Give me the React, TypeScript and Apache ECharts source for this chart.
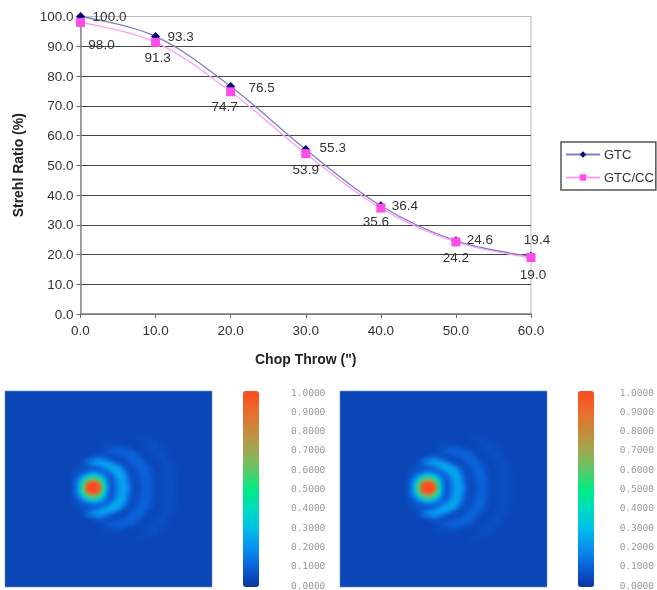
import React, { useEffect, useRef } from "react";
import * as echarts from "echarts";

const chopThrow = [0, 10, 20, 30, 40, 50, 60];
const gtc = [100.0, 93.3, 76.5, 55.3, 36.4, 24.6, 19.4];
const gtcCc = [98.0, 91.3, 74.7, 53.9, 35.6, 24.2, 19.0];
const colorbarTicks = [0, 0.1, 0.2, 0.3, 0.4, 0.5, 0.6, 0.7, 0.8, 0.9, 1];

// Intensity (percent), rows top to bottom, 4 px cells.
const psfUpper = [
  [4,4,4,4,4,4,4,4,4,4,4,4,4,4,4,4,4,4,5,5,5,4,4,4,4,4,4,4,4,4,4],
  [4,4,4,4,4,4,4,4,4,4,4,4,4,4,4,4,4,4,4,5,5,6,5,5,4,4,4,4,4,4,4],
  [4,4,4,4,4,4,4,4,4,5,5,5,5,5,5,4,4,4,4,4,5,6,6,6,5,4,4,4,4,4,4],
  [4,4,4,4,4,4,4,4,4,4,5,6,7,8,8,7,6,5,4,4,5,5,6,6,5,5,4,4,4,4,4],
  [4,4,4,4,4,4,4,4,4,5,6,7,9,10,10,10,10,9,7,5,4,5,5,6,6,5,5,4,4,4,4],
  [4,4,4,4,4,4,4,5,7,8,7,6,6,6,8,9,10,11,10,7,5,4,5,5,6,6,5,4,4,4,4],
  [4,4,4,4,4,6,10,14,17,18,16,11,7,5,5,6,8,10,11,10,7,5,4,5,5,6,5,5,4,4,4],
  [4,4,4,4,5,7,11,16,20,23,24,23,20,14,8,5,6,8,10,11,9,6,5,4,5,5,6,5,4,4,4],
  [4,4,4,5,6,7,7,8,9,12,18,23,25,25,20,12,6,6,8,10,11,9,6,4,5,5,6,5,5,4,4],
  [4,4,5,5,7,9,12,15,15,13,11,13,20,25,26,18,9,5,7,9,11,10,6,5,4,5,6,5,5,4,4],
  [4,4,5,7,12,20,29,35,34,27,17,10,10,20,25,22,12,6,6,8,10,10,7,5,4,5,6,6,5,4,4],
  [4,4,6,10,20,38,58,70,68,52,30,14,8,15,23,23,15,7,5,7,10,10,8,5,4,5,6,6,5,4,4],
  [4,4,6,12,27,56,92,104,102,82,42,17,7,14,22,24,17,8,5,7,10,10,8,5,4,5,6,6,5,4,4],
];
const psfCentre = [4,4,6,12,29,62,104,120,120,96,46,19,7,13,21,24,18,8,5,6,9,10,8,5,4,5,6,6,5,4,4];
const psfRows = [...psfUpper, psfCentre, ...[...psfUpper].reverse()];

const psfCells = psfRows.flatMap((row, r) => row.map((v, c) => [c, r, v]));
const columnNames = psfRows[0].map((_, i) => String(i));
const rowNames = psfRows.map((_, i) => String(i));

const gtcLabelOffsets = [[29, 0], [25, 0], [31, 1], [27, -2], [24, 0], [24, -1], [6, -17]];
const ccLabelOffsets = [[21, 22], [2, 15], [-6, 15], [0, 16], [-5, 13], [0, 15], [2, 17]];

const heatColors = ["#0a35a0", "#0a60d8", "#0a90f0", "#00c0e8", "#00dcc0", "#00ec80", "#60c868", "#a0a850", "#c88a3c", "#ec6a2c", "#ff4a20"];

const labelStyle = { fontFamily: "Liberation Sans", fontSize: 13.5, color: "#333" };

function lineSeries(name: string, values: number[], offsets: number[][], symbol: string, size: number, line: string, mark: string) {
  return {
    name,
    type: "line",
    xAxisIndex: 0,
    yAxisIndex: 0,
    smooth: 0.35,
    symbol,
    symbolSize: size,
    lineStyle: { color: line, width: 1.3 },
    itemStyle: { color: mark },
    data: values.map((v, i) => ({
      value: [chopThrow[i], v],
      label: {
        show: true,
        position: "inside",
        offset: offsets[i],
        formatter: v.toFixed(1),
        ...labelStyle,
      },
    })),
  };
}

const panels = [
  { left: 5, bar: 243, heat: 62 },
  { left: 340, bar: 578, heat: 397 },
];

const option: any = {
  animation: false,
  backgroundColor: "#fff",
  legend: {
    left: 561,
    top: 142,
    orient: "vertical",
    data: ["GTC", "GTC/CC"],
    itemWidth: 34,
    itemHeight: 8,
    itemGap: 10,
    padding: [6, 2, 6, 4],
    borderColor: "#555",
    borderWidth: 1.5,
    textStyle: { fontFamily: "Liberation Sans", fontSize: 13, color: "#333", padding: [0, 0, 0, -1] },
  },
  grid: [
    { left: 80.5, top: 16.5, width: 450.5, height: 297.5, show: true, borderColor: "#bbb", borderWidth: 1, backgroundColor: "transparent" },
    ...panels.map((p) => ({ left: p.bar, top: 392, width: 16, height: 195 })),
  ],
  xAxis: [
    {
      type: "value",
      gridIndex: 0,
      min: 0,
      max: 60,
      interval: 10,
      name: 'Chop Throw (")',
      nameLocation: "middle",
      nameGap: 38,
      nameTextStyle: { fontFamily: "Liberation Sans", fontWeight: "bold", fontSize: 14, color: "#222" },
      axisLine: { lineStyle: { color: "#888", width: 1.5 } },
      axisTick: { show: true, length: 4, lineStyle: { color: "#666" } },
      axisLabel: { formatter: (v: number) => v.toFixed(1), margin: 9, ...labelStyle },
      splitLine: { show: false },
    },
    ...panels.map((_, i) => ({ type: "value", gridIndex: i + 1, show: false })),
  ],
  yAxis: [
    {
      type: "value",
      gridIndex: 0,
      min: 0,
      max: 100,
      interval: 10,
      name: "Strehl Ratio (%)",
      nameLocation: "middle",
      nameGap: 56,
      nameTextStyle: { fontFamily: "Liberation Sans", fontWeight: "bold", fontSize: 14, color: "#222" },
      axisLine: { show: true, lineStyle: { color: "#888", width: 1.5 } },
      axisTick: { show: true, length: 4, lineStyle: { color: "#666" } },
      axisLabel: { formatter: (v: number) => v.toFixed(1), margin: 7, ...labelStyle },
      splitLine: { show: true, showMaxLine: false, lineStyle: { color: "#444", width: 1 } },
    },
    ...panels.map((_, i) => ({
      type: "value",
      gridIndex: i + 1,
      position: "right",
      min: 0,
      max: 1,
      interval: 0.1,
      axisLine: { show: false },
      axisTick: { show: false },
      splitLine: { show: false },
      axisLabel: {
        margin: 32,
        showMinLabel: true,
        showMaxLabel: true,
        hideOverlap: false,
        formatter: (v: number) => (colorbarTicks.includes(Math.round(v * 10) / 10) ? v.toFixed(4) : ""),
        fontFamily: "DejaVu Sans Mono",
        fontSize: 9.5,
        color: "#9a9a9a",
      },
    })),
  ],
  visualMap: panels.map((p) => ({
    type: "continuous",
    seriesIndex: [],
    dimension: 2,
    min: 0,
    max: 100,
    left: p.bar,
    top: 391,
    padding: 0,
    itemWidth: 16,
    itemHeight: 196,
    calculable: false,
    realtime: false,
    text: null,
    showLabel: false,
    inRange: { color: heatColors },
  })),
  graphic: panels.map((p) => ({
    type: "rect",
    z: -1,
    silent: true,
    shape: { x: p.left, y: 391, width: 207, height: 196 },
    style: { fill: "#0a46b6", stroke: "#6f8fc4", lineWidth: 0.6 },
  })),
  series: [
    lineSeries("GTC", gtc, gtcLabelOffsets, "diamond", 9, "#7d80c4", "#000080"),
    lineSeries("GTC/CC", gtcCc, ccLabelOffsets, "rect", 9, "#ff9cf5", "#ff4de8"),
  ],
};

// The intensity maps go in their own transparent layer, which is softened as the photographed maps are.
const heatOption: any = {
  animation: false,
  grid: panels.map((p) => ({ left: p.heat, top: 434, width: 124, height: 108 })),
  xAxis: panels.map((_, i) => ({ type: "category", gridIndex: i, data: columnNames, show: false })),
  yAxis: panels.map((_, i) => ({ type: "category", gridIndex: i, data: rowNames, inverse: true, show: false })),
  visualMap: {
    type: "continuous",
    show: false,
    seriesIndex: [0, 1],
    dimension: 2,
    min: 0,
    max: 100,
    inRange: { color: heatColors },
  },
  series: panels.map((_, i) => ({
    type: "heatmap",
    xAxisIndex: i,
    yAxisIndex: i,
    data: psfCells,
    silent: true,
    progressive: 0,
  })),
};

export default function App() {
  const ref = useRef<HTMLDivElement>(null);
  const heatRef = useRef<HTMLDivElement>(null);
  useEffect(() => {
    document.body.style.margin = "0";
    const chart = echarts.init(ref.current!, undefined, { renderer: "svg" });
    chart.setOption(option);
    const heat = echarts.init(heatRef.current!, undefined, { renderer: "svg" });
    heat.setOption(heatOption);
    return () => {
      chart.dispose();
      heat.dispose();
    };
  }, []);
  return (
    <div style={{ position: "relative", width: 657, height: 590, overflow: "hidden" }}>
      <div ref={ref} style={{ position: "absolute", left: 0, top: 0, width: 657, height: 590, filter: "blur(0.35px)" }} />
      <div ref={heatRef} style={{ position: "absolute", left: 0, top: 0, width: 657, height: 590, filter: "blur(1.6px)", pointerEvents: "none" }} />
    </div>
  );
}
